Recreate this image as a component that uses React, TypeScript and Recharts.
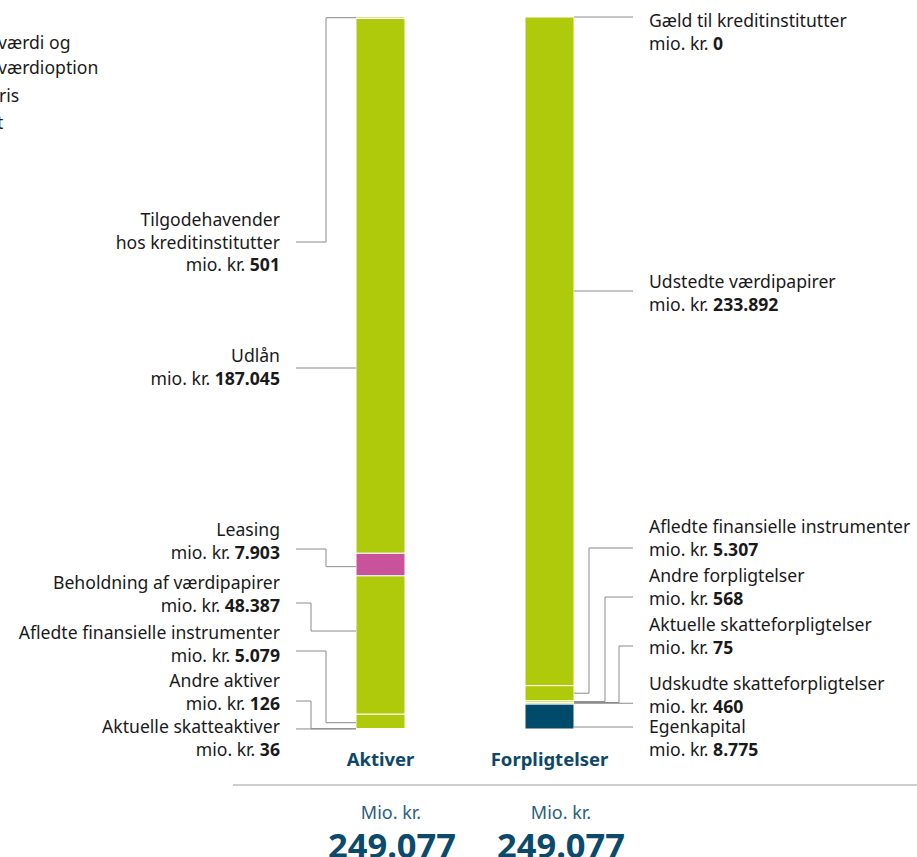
import React from 'react';
import { BarChart, Bar, XAxis, YAxis, Cell, LabelList } from 'recharts';

// Columns and segments, listed bottom to top
const categories = ['Aktiver', 'Forpligtelser'];

const aktiverNames = [
  'Aktuelle skatteaktiver',
  'Andre aktiver',
  'Afledte finansielle instrumenter',
  'Beholdning af værdipapirer',
  'Leasing',
  'Udlån',
  'Tilgodehavender\nhos kreditinstitutter',
];
const aktiverValues = [36, 126, 5079, 48387, 7903, 187045, 501];

const forpligtelserNames = [
  'Egenkapital',
  'Udskudte skatteforpligtelser',
  'Aktuelle skatteforpligtelser',
  'Andre forpligtelser',
  'Afledte finansielle instrumenter',
  'Udstedte værdipapirer',
  'Gæld til kreditinstitutter',
];
const forpligtelserValues = [8775, 460, 75, 568, 5307, 233892, 0];

const segmentKeys = ['s1', 's2', 's3', 's4', 's5', 's6', 's7'];

const GREEN = '#afca0b';
const PINK = '#c9539a';
const NAVY = '#004b6b';
const aktiverColors = [GREEN, GREEN, GREEN, GREEN, PINK, GREEN, GREEN];
const forpligtelserColors = [NAVY, GREEN, GREEN, GREEN, GREEN, GREEN, GREEN];

const chartData = categories.map((name, i) => {
  const vals = i === 0 ? aktiverValues : forpligtelserValues;
  const row: Record<string, any> = { name };
  segmentKeys.forEach((k, j) => (row[k] = vals[j]));
  return row;
});

// label placement: text top line centre, leader elbow etc.
type Lay = { textY: number; leaderY?: number; elbowX?: number; frac?: number };
const aktiverLayout: Lay[] = [
  { textY: 726, frac: 0.5 },
  { textY: 680, leaderY: 701, elbowX: 311, frac: 0.5 },
  { textY: 632, leaderY: 651, elbowX: 326, frac: 0.6 },
  { textY: 582, leaderY: 603, elbowX: 311, frac: 0.4 },
  { textY: 529, leaderY: 549, elbowX: 326, frac: 0.6 },
  { textY: 355, leaderY: 368 },
  { textY: 219, leaderY: 242, elbowX: 326, frac: 0.5 },
];
const forpligtelserLayout: Lay[] = [
  { textY: 726, leaderY: 727 },
  { textY: 683, frac: 0.5 },
  { textY: 624, leaderY: 646, elbowX: 619, frac: 0.5 },
  { textY: 575, leaderY: 597, elbowX: 605, frac: 0.5 },
  { textY: 526, leaderY: 548, elbowX: 589, frac: 0.5 },
  { textY: 281, leaderY: 291 },
  { textY: 20, frac: 0 },
];

const FONT = '"Noto Sans", "Open Sans", sans-serif';
const FS = 17.6;
const LINE_GAP = 22.5;

const fmt = (v: number) => String(v).replace(/\B(?=(\d{3})+(?!\d))/g, '.');

function drawLabel(left: boolean, seg: number, x: number, y: number, w: number, h: number) {
  const lay = (left ? aktiverLayout : forpligtelserLayout)[seg];
  const name = (left ? aktiverNames : forpligtelserNames)[seg];
  const val = (left ? aktiverValues : forpligtelserValues)[seg];
  const lines = name.split('\n');

  const barEdge = left ? x : x + w;
  const anchor = lay.frac !== undefined ? y + h * lay.frac : (lay.leaderY as number);
  const ly = lay.leaderY !== undefined ? lay.leaderY : anchor;
  const outer = left ? 296 : 633;
  const pts =
    lay.elbowX !== undefined
      ? `${outer},${ly} ${lay.elbowX},${ly} ${lay.elbowX},${anchor} ${barEdge},${anchor}`
      : `${outer},${ly} ${barEdge},${ly}`;
  const tx = left ? 280 : 649;
  return (
    <g key={`lab-${seg}-${left ? 0 : 1}`}>
      <polyline points={pts} fill="none" stroke="#8a8a8a" strokeWidth={1} />
      <text x={tx} textAnchor={left ? 'end' : 'start'} fontFamily={FONT} fontSize={FS} fill="#1a1a1a">
        {lines.map((ln, i) => (
          <tspan key={i} x={tx} y={lay.textY + i * LINE_GAP} dominantBaseline="central">
            {ln}
          </tspan>
        ))}
        <tspan x={tx} y={lay.textY + lines.length * LINE_GAP} dominantBaseline="central">
          {'mio. kr. '}
          <tspan fontWeight={700}>{fmt(val)}</tspan>
        </tspan>
      </text>
    </g>
  );
}

const makeLabel = (seg: number) => (props: any) => {
  const { index } = props;
  const x = Number(props.x ?? props.viewBox?.x);
  const y = Number(props.y ?? props.viewBox?.y);
  const w = Number(props.width ?? props.viewBox?.width);
  const h = Number(props.height ?? props.viewBox?.height);
  const left = index === 0;
  const vals = left ? aktiverValues : forpligtelserValues;
  const out = [drawLabel(left, seg, x, y, w, h)];
  // zero-sized segment stacked on top gets no rectangle of its own:
  // place its label at the top edge of this one
  const next = seg + 1;
  if (next < vals.length && vals[next] === 0) out.push(drawLabel(left, next, x, y, w, 0));
  return <g key={`labs-${seg}-${index}`}>{out}</g>;
};

const CategoryTick = (props: any) => {
  const { x, y, payload } = props;
  return (
    <text
      x={x}
      y={y + 29}
      textAnchor="middle"
      fontFamily={FONT}
      fontSize={18.5}
      fontWeight={700}
      fill="#0e4866"
    >
      {payload.value}
    </text>
  );
};

const totals = [aktiverValues, forpligtelserValues].map((v) => v.reduce((a, b) => a + b, 0));

export default function App() {
  return (
    <div
      style={{
        position: 'absolute',
        left: 0,
        top: 0,
        width: 917,
        height: 857,
        overflow: 'hidden',
        background: '#fff',
        fontFamily: FONT,
      }}
    >
      <svg width={917} height={857} style={{ position: 'absolute', left: 0, top: 0 }}>
        {/* cropped legend text at the left edge */}
        <g fontFamily={FONT} fontSize={FS} fill="#1a1a1a">
          <text x={-2} y={42} dominantBaseline="central">værdi og</text>
          <text x={-2} y={67} dominantBaseline="central">værdioption</text>
          <text x={-1} y={95} dominantBaseline="central">ris</text>
          <text x={-3} y={122} dominantBaseline="central">t</text>
        </g>
        <line x1={233} x2={917} y1={785} y2={785} stroke="#bcbcbc" strokeWidth={1.5} />
        {totals.map((t, i) => (
          <g key={i}>
            <text
              x={i === 0 ? 391 : 561}
              y={812}
              textAnchor="middle"
              dominantBaseline="central"
              fontFamily={FONT}
              fontSize={18}
              fill="#2a5f7f"
            >
              Mio. kr.
            </text>
            <text
              x={i === 0 ? 392 : 561}
              y={844}
              textAnchor="middle"
              dominantBaseline="central"
              fontFamily={FONT}
              fontSize={34.5}
              fontWeight={700}
              fill="#0b4a6b"
            >
              {fmt(t)}
            </text>
          </g>
        ))}
      </svg>
      <div style={{ position: 'absolute', left: 0, top: 0 }}>
        <BarChart
          width={917}
          height={857}
          data={chartData}
          margin={{ top: 17, right: 283, bottom: 88, left: 296 }}
          barSize={49}
        >
          <XAxis
            dataKey="name"
            axisLine={false}
            tickLine={false}
            height={40}
            tick={<CategoryTick />}
            interval={0}
          />
          <YAxis hide domain={[0, totals[0]]} allowDataOverflow />
          {segmentKeys.map((k, j) => (
            <Bar
              key={k}
              dataKey={k}
              stackId="a"
              stroke="#ffffff"
              strokeWidth={1}
              isAnimationActive={false}
            >
              {chartData.map((_, i) => (
                <Cell key={i} fill={i === 0 ? aktiverColors[j] : forpligtelserColors[j]} />
              ))}
              <LabelList dataKey={k} content={makeLabel(j)} />
            </Bar>
          ))}
        </BarChart>
      </div>
    </div>
  );
}
